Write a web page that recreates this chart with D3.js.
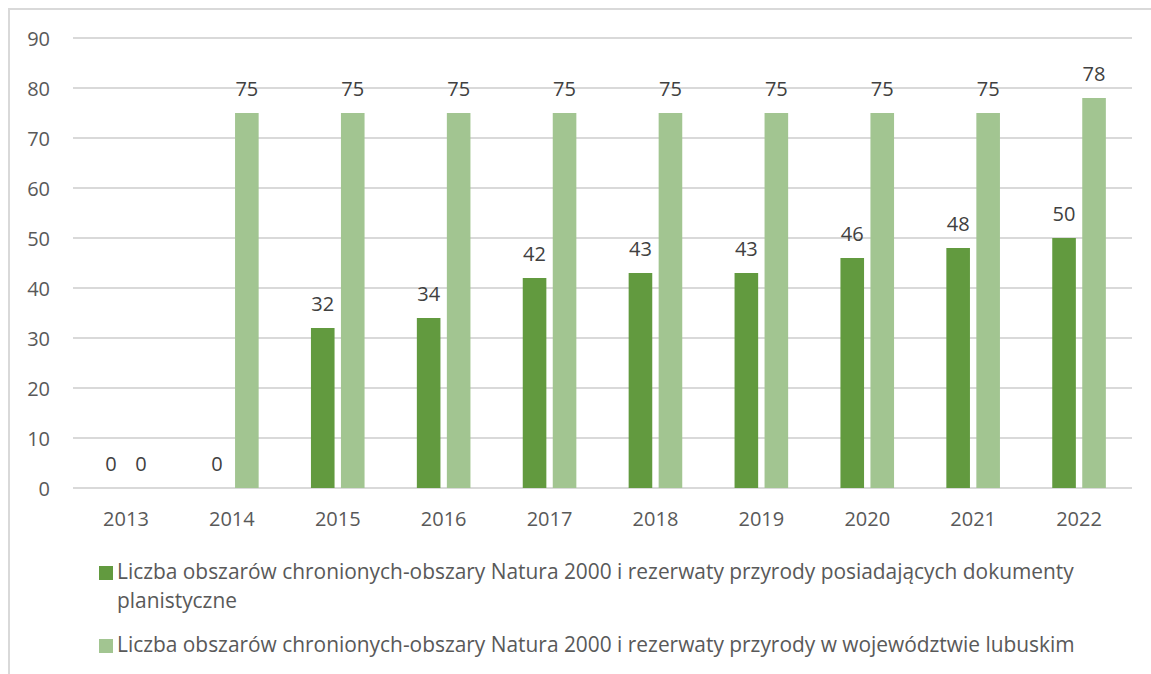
<!DOCTYPE html>
<html><head><meta charset="utf-8">
<script src="https://cdn.jsdelivr.net/npm/d3@7"></script>
<style>body{margin:0;background:#fff}svg{display:block}</style>
</head><body>
<svg id="c" width="1151" height="674"></svg>
<script>
const categories = ["2013","2014","2015","2016","2017","2018","2019","2020","2021","2022"];
const seriesDocs = [0,0,32,34,42,43,43,46,48,50];
const seriesTotal = [0,75,75,75,75,75,75,75,75,78];
const yTicks = [0,10,20,30,40,50,60,70,80,90];
const seriesNames = [
  "Liczba obszarów chronionych-obszary Natura 2000 i rezerwaty przyrody posiadających dokumenty",
  "Liczba obszarów chronionych-obszary Natura 2000 i rezerwaty przyrody w województwie lubuskim"
];
const legendLine2 = "planistyczne";
const colors = ["#629a3f", "#a2c591"];

const svg = d3.select("#c");
const font = "'Open Sans', sans-serif";
const fs = 20;
const lfs = 20.9;
const textColor = "#595959";

// outer border
svg.append("rect").attr("x",9).attr("y",9).attr("width",1160).attr("height",680)
  .attr("fill","none").attr("stroke","#d9d9d9").attr("stroke-width",2);

const x = d3.scaleBand().domain(categories).range([73,1132]).paddingInner(0).paddingOuter(0);
const y = d3.scaleLinear().domain([0,90]).range([488,38]);

// gridlines
svg.append("g").selectAll("line").data(yTicks).join("line")
  .attr("x1",73).attr("x2",1132)
  .attr("y1",d=>y(d)).attr("y2",d=>y(d))
  .attr("stroke","#d9d9d9").attr("stroke-width",2);

// y axis labels
const yAxis = d3.axisLeft(y).tickValues(yTicks).tickSize(0).tickPadding(0);
const ya = svg.append("g").attr("transform","translate(50,0)").call(yAxis);
ya.select(".domain").remove();
ya.selectAll("text").attr("font-family",font).attr("font-size",fs).attr("fill",textColor)
  .attr("text-anchor","end").attr("dy","0.35em");

// x axis labels
const xAxis = d3.axisBottom(x).tickSize(0).tickPadding(0);
const xa = svg.append("g").attr("transform","translate(0,512)").call(xAxis);
xa.select(".domain").remove();
xa.selectAll("text").attr("font-family",font).attr("font-size",fs).attr("fill",textColor);

const barW = 23.6, gap = 6.4;
const offsets = [-(gap/2)-barW, gap/2];
const series = [seriesDocs, seriesTotal];

series.forEach((vals,si)=>{
  const g = svg.append("g");
  const data = categories.map((c,i)=>({c, v: vals[i]}));
  g.selectAll("rect").data(data).join("rect")
    .attr("x",d=>x(d.c)+x.bandwidth()/2+offsets[si])
    .attr("width",barW)
    .attr("y",d=>y(d.v))
    .attr("height",d=>y(0)-y(d.v))
    .attr("fill",colors[si]);
  g.selectAll("text").data(data).join("text")
    .attr("x",d=>x(d.c)+x.bandwidth()/2+offsets[si]+barW/2)
    .attr("y",d=>y(d.v)-17)
    .attr("text-anchor","middle")
    .attr("font-family",font).attr("font-size",fs).attr("fill","#404040")
    .text(d=>d.v);
});

// legend
const lg = svg.append("g");
lg.append("rect").attr("x",99).attr("y",566).attr("width",14).attr("height",14).attr("fill",colors[0]);
lg.append("text").attr("x",117).attr("y",579).attr("font-family",font).attr("font-size",lfs)
  .attr("fill",textColor).text(seriesNames[0]);
lg.append("text").attr("x",117).attr("y",608).attr("font-family",font).attr("font-size",lfs)
  .attr("fill",textColor).text(legendLine2);
lg.append("rect").attr("x",99).attr("y",639).attr("width",14).attr("height",14).attr("fill",colors[1]);
lg.append("text").attr("x",117).attr("y",652).attr("font-family",font).attr("font-size",lfs)
  .attr("fill",textColor).text(seriesNames[1]);
</script>
</body></html>
